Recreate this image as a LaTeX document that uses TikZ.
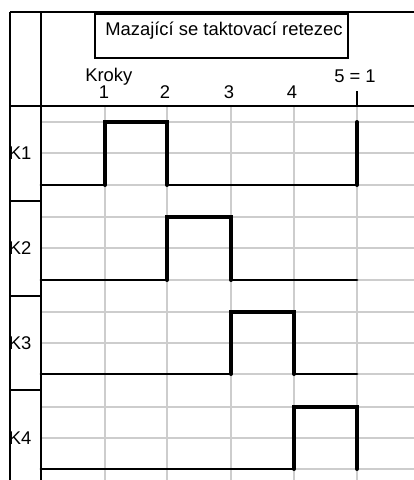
\documentclass[tikz,border=0pt]{standalone}
\usepackage{fontspec}
\setmainfont{Liberation Sans}
\begin{document}
\begin{tikzpicture}[x=0.75pt,y=-0.75pt,
  gridline/.style={draw={rgb,255:red,205;green,205;blue,205},line width=0.9pt},
  frame/.style={draw=black,line width=0.8pt},
  siglow/.style={draw=black,line width=2.1pt,line cap=round,line join=miter},
  sigpulse/.style={draw=black,line width=3pt,line cap=round,line join=miter},
  lbl/.style={inner sep=0pt,font=\fontsize{13.8}{16}\selectfont}]
\useasboundingbox (0,0) rectangle (414,480);
\fill[white] (0,0) rectangle (414,480);
% grid
\foreach \y in {122,153,185,217,248,280,312,343,374,407,438,469}
  \draw[gridline] (41,\y) -- (414,\y);
\foreach \x in {105,167,231,294,357}
  \draw[gridline] (\x,106) -- (\x,480);
% signals
\draw[siglow] (41,185) -- (105,185);
\draw[sigpulse] (105,185) -- (105,122) -- (167,122) -- (167,185);
\draw[siglow] (167,185) -- (357,185);
\draw[sigpulse] (357,185) -- (357,122);
\draw[siglow] (41,280) -- (167,280);
\draw[sigpulse] (167,280) -- (167,217) -- (231,217) -- (231,280);
\draw[siglow] (231,280) -- (357,280);
\draw[siglow] (41,374) -- (231,374);
\draw[sigpulse] (231,374) -- (231,312) -- (294,312) -- (294,374);
\draw[siglow] (294,374) -- (357,374);
\draw[siglow] (41,469) -- (294,469);
\draw[sigpulse] (294,469) -- (294,407) -- (357,407) -- (357,469);
% frame
\draw[frame] (10,12) -- (10,480);
\draw[frame] (41,12) -- (41,480);
\draw[frame] (10,12) -- (414,12);
\draw[frame] (10,106) -- (414,106);
\foreach \y in {201,296,390}
  \draw[frame] (10,\y) -- (41,\y);
\draw[frame] (357,91) -- (357,106);
% title
\draw[frame] (95,14) rectangle (348,58);
\node[lbl,anchor=base west] (title) at (105,35) {Mazající se taktovací retezec};
% step labels
\node[lbl,anchor=base west] (kroky) at (85,81) {Kroky};
\node[lbl,anchor=base] (s1) at (104,98) {1};
\node[lbl,anchor=base] (s2) at (165,98) {2};
\node[lbl,anchor=base] (s3) at (229,98) {3};
\node[lbl,anchor=base] (s4) at (292,98) {4};
\node[lbl,anchor=base] (s5) at (355,82) {5 = 1};
% row labels
\node[lbl,anchor=base west] (k1) at (8.5,159) {K1};
\node[lbl,anchor=base west] (k2) at (8.5,254) {K2};
\node[lbl,anchor=base west] (k3) at (8.5,349) {K3};
\node[lbl,anchor=base west] (k4) at (8.5,444) {K4};
\end{tikzpicture}
\end{document}
